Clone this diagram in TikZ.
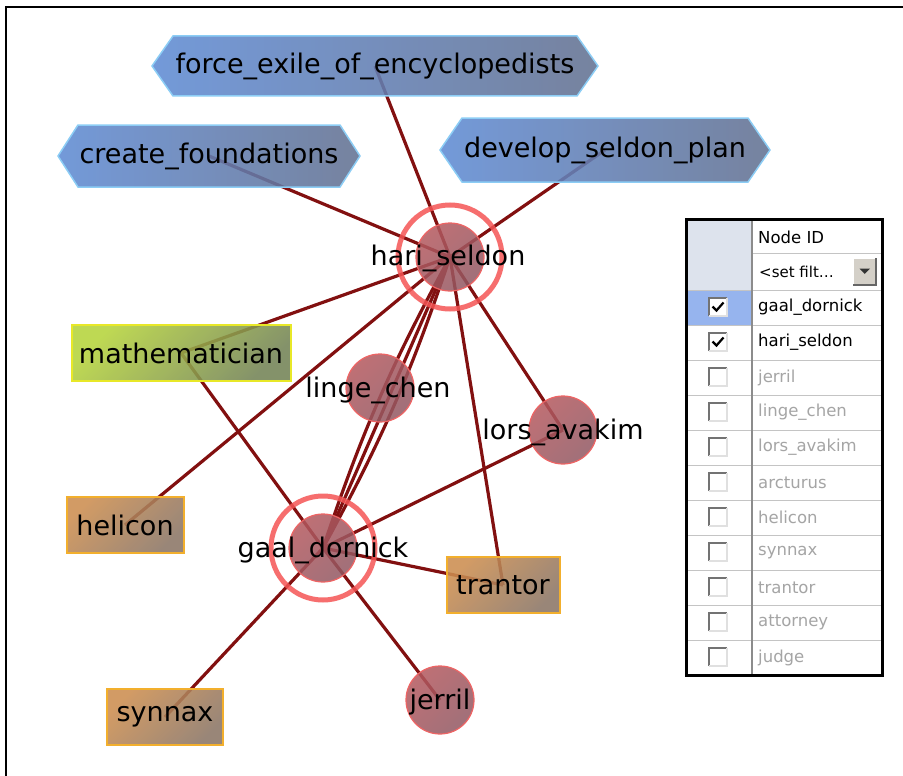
\documentclass[tikz,border=0pt]{standalone}
\usepackage{fontspec}
\setmainfont{DejaVu Sans}
\usetikzlibrary{calc}
\definecolor{edgec}{RGB}{130,16,16}
\definecolor{circlight}{RGB}{180,88,94}
\definecolor{circdark}{RGB}{145,88,98}
\definecolor{circborder}{RGB}{238,100,100}
\definecolor{ringc}{RGB}{245,85,85}
\definecolor{hexleft}{RGB}{96,140,212}
\definecolor{hexright}{RGB}{100,114,146}
\definecolor{hexborder}{RGB}{140,205,245}
\definecolor{brownlight}{RGB}{204,142,80}
\definecolor{browndark}{RGB}{140,118,102}
\definecolor{brownborder}{RGB}{242,175,45}
\definecolor{greenlight}{RGB}{182,212,60}
\definecolor{greendark}{RGB}{116,132,86}
\definecolor{greenborder}{RGB}{232,232,40}
\definecolor{hdrcell}{RGB}{221,227,237}
\definecolor{selcell}{RGB}{150,180,238}
\definecolor{gridc}{RGB}{196,196,196}
\definecolor{divc}{RGB}{140,140,140}
\definecolor{greytext}{RGB}{165,165,165}
\definecolor{btnc}{RGB}{212,208,200}
\pgfdeclarelayer{paper}
\pgfdeclarelayer{bg}
\pgfsetlayers{paper,bg,main}
\newcommand\hexbox[7]{%
  \path[hexfill] (#2-#4,#3) -- (#2-#4+#6,#3-#5) -- (#2+#4-#6,#3-#5) -- (#2+#4,#3)
     -- (#2+#4-#6,#3+#5) -- (#2-#4+#6,#3+#5) -- cycle;
  \node[lbl] (#1) at (#2,#3) {#7};}
\newcommand\chkbox[2]{% y-top, checked?
  \fill[white] (709,#1) rectangle (727,#1+18);
  \draw[line width=1.2pt, black!55] (709,#1+18) -- (709,#1) -- (727,#1);
  \draw[line width=1.2pt, black!12] (727,#1) -- (727,#1+18) -- (709,#1+18);
  \ifnum#2=1
    \draw[line width=2.2pt, black] (712.5,#1+8.5) -- (716.5,#1+12.5) -- (723.5,#1+4.5);
  \fi}
\begin{document}
\begin{tikzpicture}[x=1pt,y=-1pt,
  lbl/.style={inner sep=0pt, font=\fontsize{27}{30}\selectfont, text=black},
  tbl/.style={inner sep=0pt, anchor=west, font=\fontsize{16.5}{18}\selectfont},
  edge/.style={draw=edgec, line width=3.2pt},
  circ/.style={circle, minimum size=68pt, inner sep=0pt, draw=circborder, line width=1.2pt,
    fill opacity=0.85, top color=circlight, bottom color=circdark, shading angle=45},
  ring/.style={draw=ringc, line width=5pt, draw opacity=0.85},
  hexfill/.style={draw=hexborder, line width=1.5pt, fill opacity=0.88,
    left color=hexleft, right color=hexright},
  brownbox/.style={rectangle, inner sep=0pt, minimum height=56pt, draw=brownborder, line width=2pt,
    fill opacity=0.88, text opacity=1, top color=brownlight, bottom color=browndark, shading angle=45,
    font=\fontsize{27}{30}\selectfont},
  greenbox/.style={rectangle, inner sep=0pt, minimum height=56pt, draw=greenborder, line width=2pt,
    fill opacity=0.88, text opacity=1, top color=greenlight, bottom color=greendark, shading angle=45,
    font=\fontsize{27}{30}\selectfont}]
\useasboundingbox (0,0) rectangle (903,776);
\begin{pgfonlayer}{paper}
\fill[white] (0,0) rectangle (903,776);
\end{pgfonlayer}
\draw[line width=2pt, black] (6,776) -- (6,7) -- (903,7);

% hexagons
\hexbox{fe}{375}{66}{223}{30}{21}{force\_exile\_of\_encyclopedists}
\hexbox{cf}{209}{156}{151}{31}{20}{create\_foundations}
\hexbox{dp}{605}{150}{165}{32}{22}{develop\_seldon\_plan}

% boxes
\node[greenbox, minimum width=219pt] (ma) at (181,353) {mathematician};
\node[brownbox, minimum width=117pt] (he) at (125,525) {helicon};
\node[brownbox, minimum width=113pt] (tr) at (503,585) {trantor};
\node[brownbox, minimum width=116pt] (sy) at (165,717) {synnax};

% circles
\draw[ring] (450,257) circle (52);
\draw[ring] (323,548) circle (52);
\node[circ] (hs) at (450,257) {};
\node[circ] (lc) at (380,388) {};
\node[circ] (la) at (563,430) {};
\node[circ] (gd) at (323,548) {};
\node[circ] (je) at (440,700) {};

\node[lbl] (hsl) at (448,258) {hari\_seldon};
\node[lbl] (lcl) at (378,390) {linge\_chen};
\node[lbl] (lal) at (563,432) {lors\_avakim};
\node[lbl] (gdl) at (323,550) {gaal\_dornick};
\node[lbl] (jel) at (440,702) {jerril};

% edges
\begin{pgfonlayer}{bg}
\draw[edge] (hs.center) -- (fe.center);
\draw[edge] (hs.center) -- (cf.center);
\draw[edge] (hs.center) -- (dp.center);
\draw[edge] (hs.center) -- (ma.center);
\draw[edge] (hs.center) -- (he.center);
\draw[edge] (hs.center) -- (la.center);
\draw[edge] (hs.center) -- (tr.center);
\draw[edge] (hs.center) to[bend left=5] (gd.center);
\draw[edge] (hs.center) -- (gd.center);
\draw[edge] (hs.center) to[bend right=5] (gd.center);
\draw[edge] (ma.center) -- (gd.center);
\draw[edge] (gd.center) -- (la.center);
\draw[edge] (gd.center) -- (tr.center);
\draw[edge] (gd.center) -- (je.center);
\draw[edge] (gd.center) -- (sy.center);
\end{pgfonlayer}

% table
\fill[white] (686,219) rectangle (882,675);
\fill[hdrcell] (686,219) rectangle (752,290);
\fill[selcell] (686,290) rectangle (752,325);
\draw[gridc, line width=1pt] (752,253) -- (882,253);
\foreach \y in {290,325,360,395,430,465,500,535,570,605,640}
  \draw[gridc, line width=1pt] (686,\y) -- (882,\y);
\draw[divc, line width=2.5pt] (752,219) -- (752,675);
\draw[black, line width=3pt] (686,219) rectangle (882,675);

\node[tbl] (hdr) at (758,237) {Node ID};
\node[tbl, font=\fontsize{15}{17}\selectfont] (flt) at (759,272) {<set filt…};
\fill[btnc] (853,258) rectangle (876,285);
\draw[white, line width=1pt] (853,285) -- (853,258) -- (876,258);
\draw[black!60, line width=1.2pt] (876,258) -- (876,285) -- (853,285);
\fill[black!80] (859.5,268.5) -- (870,268.5) -- (864.75,274) -- cycle;

\chkbox{298}{1}
\chkbox{333}{1}
\foreach \i in {2,...,10} {\chkbox{298+35*\i}{0}}

\node[tbl, text=black] (t1) at (758,307.5) {gaal\_dornick};
\node[tbl, text=black] (t2) at (758,342.5) {hari\_seldon};
\node[tbl, text=greytext] (t3) at (758,377.5) {jerril};
\node[tbl, text=greytext] (t4) at (758,412.5) {linge\_chen};
\node[tbl, text=greytext] (t5) at (758,447.5) {lors\_avakim};
\node[tbl, text=greytext] (t6) at (758,482.5) {arcturus};
\node[tbl, text=greytext] (t7) at (758,517.5) {helicon};
\node[tbl, text=greytext] (t8) at (758,552.5) {synnax};
\node[tbl, text=greytext] (t9) at (758,587.5) {trantor};
\node[tbl, text=greytext] (t10) at (758,622.5) {attorney};
\node[tbl, text=greytext] (t11) at (758,657.5) {judge};
\end{tikzpicture}
\end{document}
